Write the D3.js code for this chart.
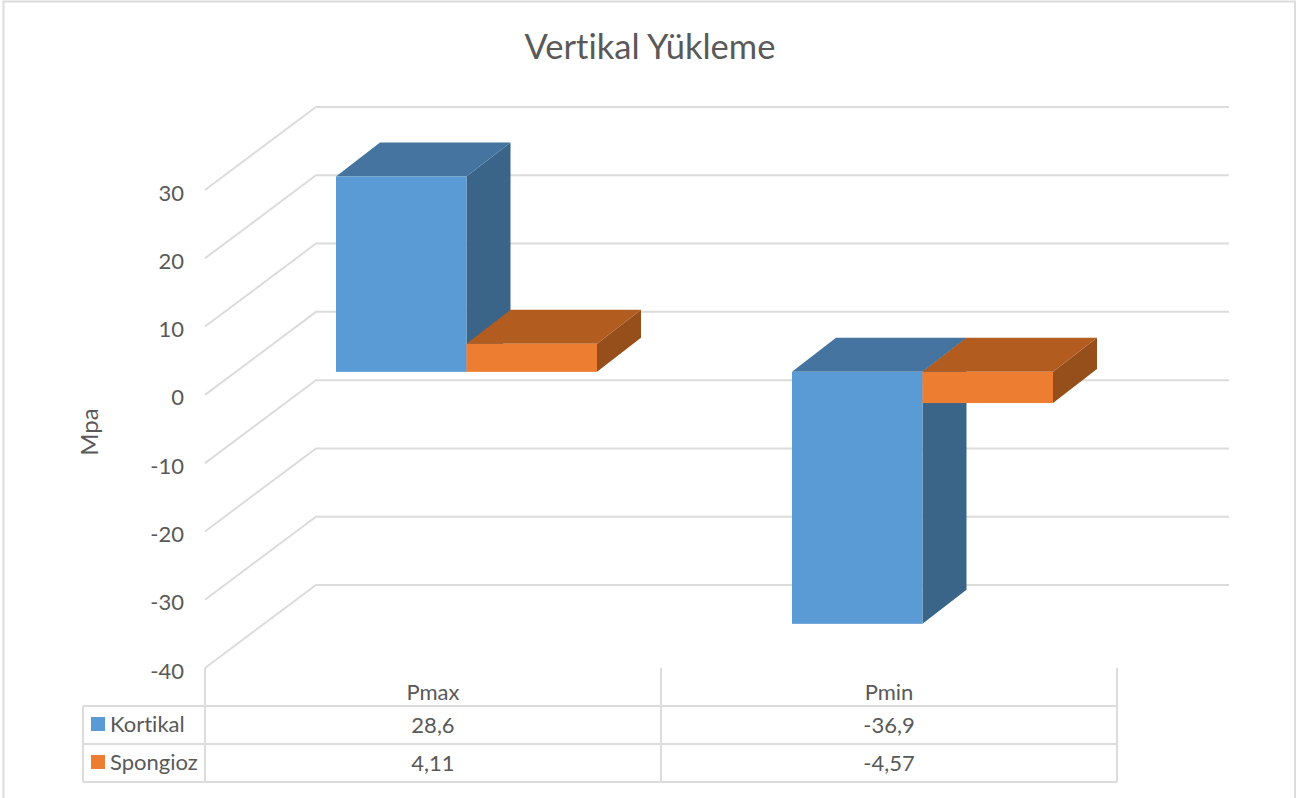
<!DOCTYPE html>
<html>
<head>
<meta charset="utf-8">
<script src="https://cdn.jsdelivr.net/npm/d3@7"></script>
<style>
  html, body { margin: 0; padding: 0; background: #fff; }
  svg { display: block; }
  text { font-family: Lato, "Open Sans", sans-serif; fill: #595959; font-variant-ligatures: none; }
</style>
</head>
<body>
<div id="chart"></div>
<script>
const categories = ['Pmax', 'Pmin'];
const seriesNames = ['Kortikal', 'Spongioz'];
const kortikalValues = [28.6, -36.9];
const spongiozValues = [4.11, -4.57];
const valueLabels = [['28,6', '-36,9'], ['4,11', '-4,57']];
const yTicks = [-40, -30, -20, -10, 0, 10, 20, 30];

const seriesValues = [kortikalValues, spongiozValues];

// front, top and side shades of each series
const shades = [
  { front: '#5b9bd5', top: '#44749f', side: '#3a6488' },
  { front: '#ed7d31', top: '#b25c20', side: '#964f1b' }
];

const width = 1297;
const height = 798;
const gridColor = '#dcdcdc';
const lineWidth = 2;

let svg = d3.select('#chart')
  .append('svg')
  .attr('width', width)
  .attr('height', height);

// Outer chart frame, open at the bottom of the page
svg.append('rect')
  .attr('x', 3.5)
  .attr('y', 1.5)
  .attr('width', 1291.5)
  .attr('height', 820)
  .attr('fill', 'none')
  .attr('stroke', gridColor)
  .attr('stroke-width', lineWidth);

let y = d3.scaleLinear().domain([-40, 30]).range([668, 190]);
let x0 = d3.scaleBand().domain(categories).range([205, 1117]);
let x1 = d3.scaleBand().domain(seriesNames).range([97, 358]);

// Offsets of the oblique projection, from the front plane
const wallDx = 111, wallDy = -83;
const barDx = 34, barDy = -23;
const depthDx = 44, depthDy = -34;

// Floor lines running back to the wall, then along the wall
let grid = svg.append('g').attr('class', 'grid');
grid.selectAll('path')
  .data(yTicks)
  .enter()
  .append('path')
  .attr('d', d => {
    let p = d3.path();
    p.moveTo(205, y(d));
    p.lineTo(205 + wallDx, y(d) + wallDy);
    p.lineTo(x0.range()[1] + wallDx + 1, y(d) + wallDy);
    return p.toString();
  })
  .attr('fill', 'none')
  .attr('stroke', gridColor)
  .attr('stroke-width', lineWidth);

// Y axis labels
svg.append('g')
  .selectAll('text')
  .data(yTicks)
  .enter()
  .append('text')
  .attr('x', 184)
  .attr('y', d => y(d) + 2)
  .attr('text-anchor', 'end')
  .attr('dominant-baseline', 'central')
  .attr('font-size', 22)
  .text(d => d);

function polygon(points) {
  return 'M' + points.map(p => p.join(',')).join('L') + 'Z';
}

// Bars, back to front so the second series overlaps the first one's side
categories.forEach((cat, c) => {
  seriesNames.forEach((name, s) => {
    let value = seriesValues[s][c];
    let left = x0(cat) + x1(name) + barDx;
    let right = left + x1.bandwidth();
    let base = y(0) + barDy;
    let end = base + (y(value) - y(0));
    let high = Math.min(base, end);
    let low = Math.max(base, end);
    let bar = svg.append('g').attr('class', 'bar');
    bar.append('path')
      .attr('d', polygon([[right, high], [right + depthDx, high + depthDy], [right + depthDx, low + depthDy], [right, low]]))
      .attr('fill', shades[s].side);
    bar.append('path')
      .attr('d', polygon([[left, high], [left + depthDx, high + depthDy], [right + depthDx, high + depthDy], [right, high]]))
      .attr('fill', shades[s].top);
    bar.append('rect')
      .attr('x', left)
      .attr('y', high)
      .attr('width', right - left)
      .attr('height', low - high)
      .attr('fill', shades[s].front);
  });
});

// Data table under the plot
const tableLeft = 83, legendRight = 205;
const rowLines = [706, 744, 782];
let table = svg.append('g').attr('class', 'data-table')
  .attr('stroke', gridColor)
  .attr('stroke-width', lineWidth);
rowLines.forEach(r => {
  table.append('line').attr('x1', tableLeft).attr('x2', x0.range()[1]).attr('y1', r).attr('y2', r);
});
table.append('line').attr('x1', tableLeft).attr('x2', tableLeft).attr('y1', rowLines[0]).attr('y2', rowLines[2]);
[legendRight].concat(categories.map(c => x0(c) + x0.bandwidth())).forEach(v => {
  table.append('line').attr('x1', v).attr('x2', v).attr('y1', y(-40)).attr('y2', rowLines[2]);
});

svg.append('g')
  .selectAll('text')
  .data(categories)
  .enter()
  .append('text')
  .attr('x', d => x0(d) + x0.bandwidth() / 2)
  .attr('y', 691)
  .attr('text-anchor', 'middle')
  .attr('dominant-baseline', 'central')
  .attr('font-size', 22)
  .text(d => d);

seriesNames.forEach((name, s) => {
  let rowMid = (rowLines[s] + rowLines[s + 1]) / 2;
  svg.append('rect')
    .attr('x', 91)
    .attr('y', rowMid - 8)
    .attr('width', 14)
    .attr('height', 14)
    .attr('fill', shades[s].front);
  svg.append('text')
    .attr('x', 110)
    .attr('y', rowMid - 2)
    .attr('dominant-baseline', 'central')
    .attr('font-size', 22)
    .text(name);
  categories.forEach((cat, c) => {
    svg.append('text')
      .attr('x', x0(cat) + x0.bandwidth() / 2)
      .attr('y', rowMid - 1)
      .attr('text-anchor', 'middle')
      .attr('dominant-baseline', 'central')
      .attr('font-size', 22)
      .text(valueLabels[s][c]);
  });
});

svg.append('text')
  .attr('x', 650)
  .attr('y', 45)
  .attr('text-anchor', 'middle')
  .attr('dominant-baseline', 'central')
  .attr('font-size', 34.5)
  .text('Vertikal Yükleme');

svg.append('text')
  .attr('transform', 'translate(88,432) rotate(-90)')
  .attr('text-anchor', 'middle')
  .attr('dominant-baseline', 'central')
  .attr('font-size', 24)
  .text('Mpa');
</script>
</body>
</html>
